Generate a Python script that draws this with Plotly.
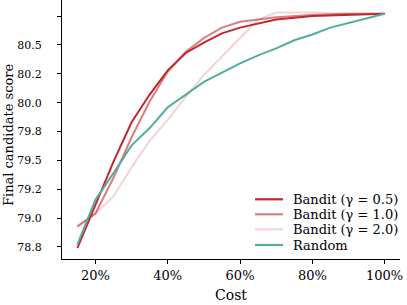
import plotly.graph_objects as go

cost_bandit = [0.15, 0.2, 0.25, 0.3, 0.35, 0.4, 0.45, 0.5, 0.55, 0.6, 0.7, 0.8, 0.9, 1.0]
bandit_05 = [78.74, 79.11, 79.49, 79.83, 80.07, 80.28, 80.43, 80.52, 80.60, 80.65, 80.72, 80.75, 80.76, 80.77]
bandit_10 = [78.93, 79.04, 79.35, 79.70, 80.01, 80.27, 80.44, 80.56, 80.65, 80.70, 80.74, 80.76, 80.77, 80.77]

cost_b2 = [0.15, 0.2, 0.25, 0.3, 0.35, 0.4, 0.45, 0.5, 0.55, 0.6, 0.65, 0.7, 0.8, 0.9, 1.0]
bandit_20 = [78.92, 79.04, 79.19, 79.44, 79.67, 79.85, 80.05, 80.24, 80.40, 80.56, 80.72, 80.78, 80.78, 80.77, 80.77]

cost_random = [0.15, 0.2, 0.25, 0.3, 0.35, 0.4, 0.45, 0.5, 0.55, 0.6, 0.65, 0.7, 0.75, 0.8, 0.85, 0.9, 0.95, 1.0]
random_vals = [78.77, 79.16, 79.39, 79.63, 79.78, 79.96, 80.07, 80.18, 80.26, 80.34, 80.41, 80.47, 80.54, 80.59, 80.65, 80.69, 80.73, 80.77]

x_ticks = [0.2, 0.4, 0.6, 0.8, 1.0]
x_ticktext = ["20%", "40%", "60%", "80%", "100%"]
y_ticks = [78.75, 79.0, 79.25, 79.5, 79.75, 80.0, 80.25, 80.5, 80.75]
y_ticktext = ["78.8", "79.0", "79.2", "79.5", "79.8", "80.0", "80.2", "80.5", ""]

series = [
    ("Bandit (γ = 0.5)", cost_bandit, bandit_05, "rgba(193,39,45,1.0)"),
    ("Bandit (γ = 1.0)", cost_bandit, bandit_10, "rgba(193,39,45,0.6)"),
    ("Bandit (γ = 2.0)", cost_b2, bandit_20, "rgba(193,39,45,0.2)"),
    ("Random", cost_random, random_vals, "#52ad9e"),
]

FONT = "DejaVu Serif"
W, H = 407, 305
L, R, T, B = 62, 7, 0, 46
PW, PH = W - L - R, H - T - B

def px_x(p):
    return (p - L) / PW

def px_y(p):
    return (H - B - p) / PH

fig = go.Figure()
for name, xs, ys, col in series:
    fig.add_trace(go.Scatter(x=xs, y=ys, mode="lines", name=name,
                             line=dict(color=col, width=2), showlegend=False))

# manual legend (compact row spacing like the reference)
legend_rows = [199.3, 214.3, 229.3, 245.0]
for (name, _, _, col), ry in zip(series, legend_rows):
    fig.add_shape(type="line", xref="paper", yref="paper",
                  x0=px_x(255), x1=px_x(283), y0=px_y(ry), y1=px_y(ry),
                  line=dict(color=col, width=2.2))
    fig.add_annotation(xref="paper", yref="paper", x=px_x(291), y=px_y(ry),
                       xanchor="left", yanchor="middle", text=name, showarrow=False,
                       font=dict(family=FONT, size=13, color="black"))

# axis titles
fig.add_annotation(xref="paper", yref="paper", x=px_x(231), y=px_y(295),
                   xanchor="center", yanchor="middle", text="Cost", showarrow=False,
                   font=dict(family=FONT, size=14, color="black"))
fig.add_annotation(xref="paper", yref="paper", x=px_x(8), y=px_y(135),
                   xanchor="center", yanchor="middle", text="Final candidate score",
                   textangle=-90, showarrow=False,
                   font=dict(family=FONT, size=13, color="black"))

fig.update_layout(
    width=W, height=H,
    margin=dict(l=L, r=R, t=T, b=B),
    paper_bgcolor="white", plot_bgcolor="white",
    font=dict(family=FONT, size=12, color="black"),
    showlegend=False,
)
fig.update_xaxes(
    range=[0.1075, 1.0425], tickvals=x_ticks, ticktext=x_ticktext,
    showgrid=False, zeroline=False, showline=True, linecolor="black", linewidth=1,
    ticks="outside", ticklen=4, tickcolor="black", tickfont=dict(size=13),
    ticklabelstandoff=0, ticklabeloverflow="allow",
)
fig.update_yaxes(
    range=[78.646, 80.889], tickvals=y_ticks, ticktext=y_ticktext,
    showgrid=False, zeroline=False, showline=True, linecolor="black", linewidth=1,
    ticks="outside", ticklen=4, tickcolor="black", tickfont=dict(size=11),
    ticklabelstandoff=13,
)
fig.write_html("out.html",
               config={"displayModeBar": False},
               post_script="document.body.style.margin='0';document.body.style.overflow='hidden';")
